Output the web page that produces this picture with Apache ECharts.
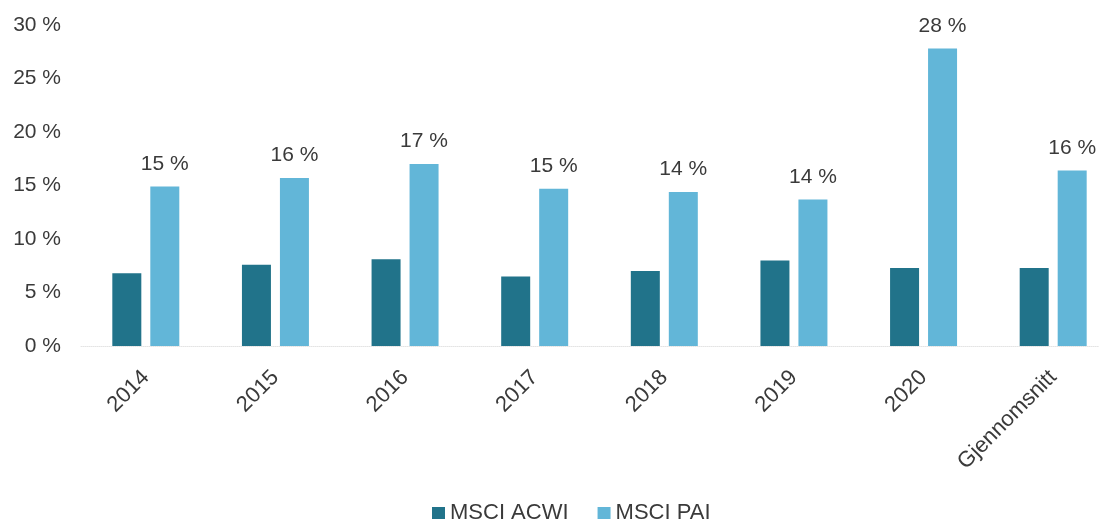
<!DOCTYPE html>
<html lang="no">
  <head>
    <meta charset="UTF-8" />
    <title>MSCI ACWI vs MSCI PAI</title>
    <style>
      * {
        margin: 0;
        padding: 0;
      }
      body {
        background: #ffffff;
        overflow: hidden;
      }
    </style>
  </head>
  <body>
    <!-- the plot runs a bit past the right edge, like in the source picture -->
    <div id="main" style="width: 1118px; height: 520px"></div>

    <script src="https://cdn.jsdelivr.net/npm/echarts@6/dist/echarts.min.js"></script>
    <script>
      // categories on the x axis
      var categories = ["2014", "2015", "2016", "2017", "2018", "2019", "2020", "Gjennomsnitt"];
      // series values (percent)
      var acwi = [6.8, 7.6, 8.1, 6.5, 7.0, 8.0, 7.3, 7.3];
      var pai = [14.9, 15.7, 17.0, 14.7, 14.4, 13.7, 27.8, 16.4];
      // series names
      var seriesNames = ["MSCI ACWI", "MSCI PAI"];

      var font = "'Liberation Sans', Arial, sans-serif";
      var textColor = "#3a3a3a";

      var myChart = echarts.init(document.getElementById("main"));

      var option = {
        animation: false,
        color: ["#21738a", "#62b6d8"],
        textStyle: { fontFamily: font },
        grid: {
          left: 81,
          right: 0,
          top: 25,
          bottom: 174,
        },
        legend: {
          data: seriesNames,
          left: 427,
          top: 497,
          icon: "rect",
          itemWidth: 13,
          itemHeight: 12,
          itemGap: 29,
          textStyle: { fontSize: 22, color: textColor, fontFamily: font },
        },
        xAxis: {
          type: "category",
          data: categories,
          axisTick: { show: false },
          axisLine: { lineStyle: { color: "#e4e4e4", type: "dotted", width: 1 } },
          axisLabel: {
            rotate: 45,
            margin: 28,
            fontSize: 22,
            color: textColor,
            fontFamily: font,
            interval: 0,
          },
        },
        yAxis: {
          type: "value",
          min: 0,
          max: 30,
          interval: 5,
          splitLine: { show: false },
          axisLine: { show: false },
          axisTick: { show: false },
          axisLabel: {
            formatter: "{value} %",
            margin: 20,
            fontSize: 21,
            color: textColor,
            fontFamily: font,
          },
        },
        series: [
          {
            name: seriesNames[0],
            type: "bar",
            data: acwi,
            barWidth: 29,
            barGap: "31%",
          },
          {
            name: seriesNames[1],
            type: "bar",
            data: pai,
            barWidth: 29,
            label: {
              show: true,
              position: "top",
              distance: 12,
              fontSize: 21,
              color: textColor,
              fontFamily: font,
              formatter: function (p) {
                return Math.round(p.value) + " %";
              },
            },
          },
        ],
      };

      myChart.setOption(option);
    </script>
  </body>
</html>
